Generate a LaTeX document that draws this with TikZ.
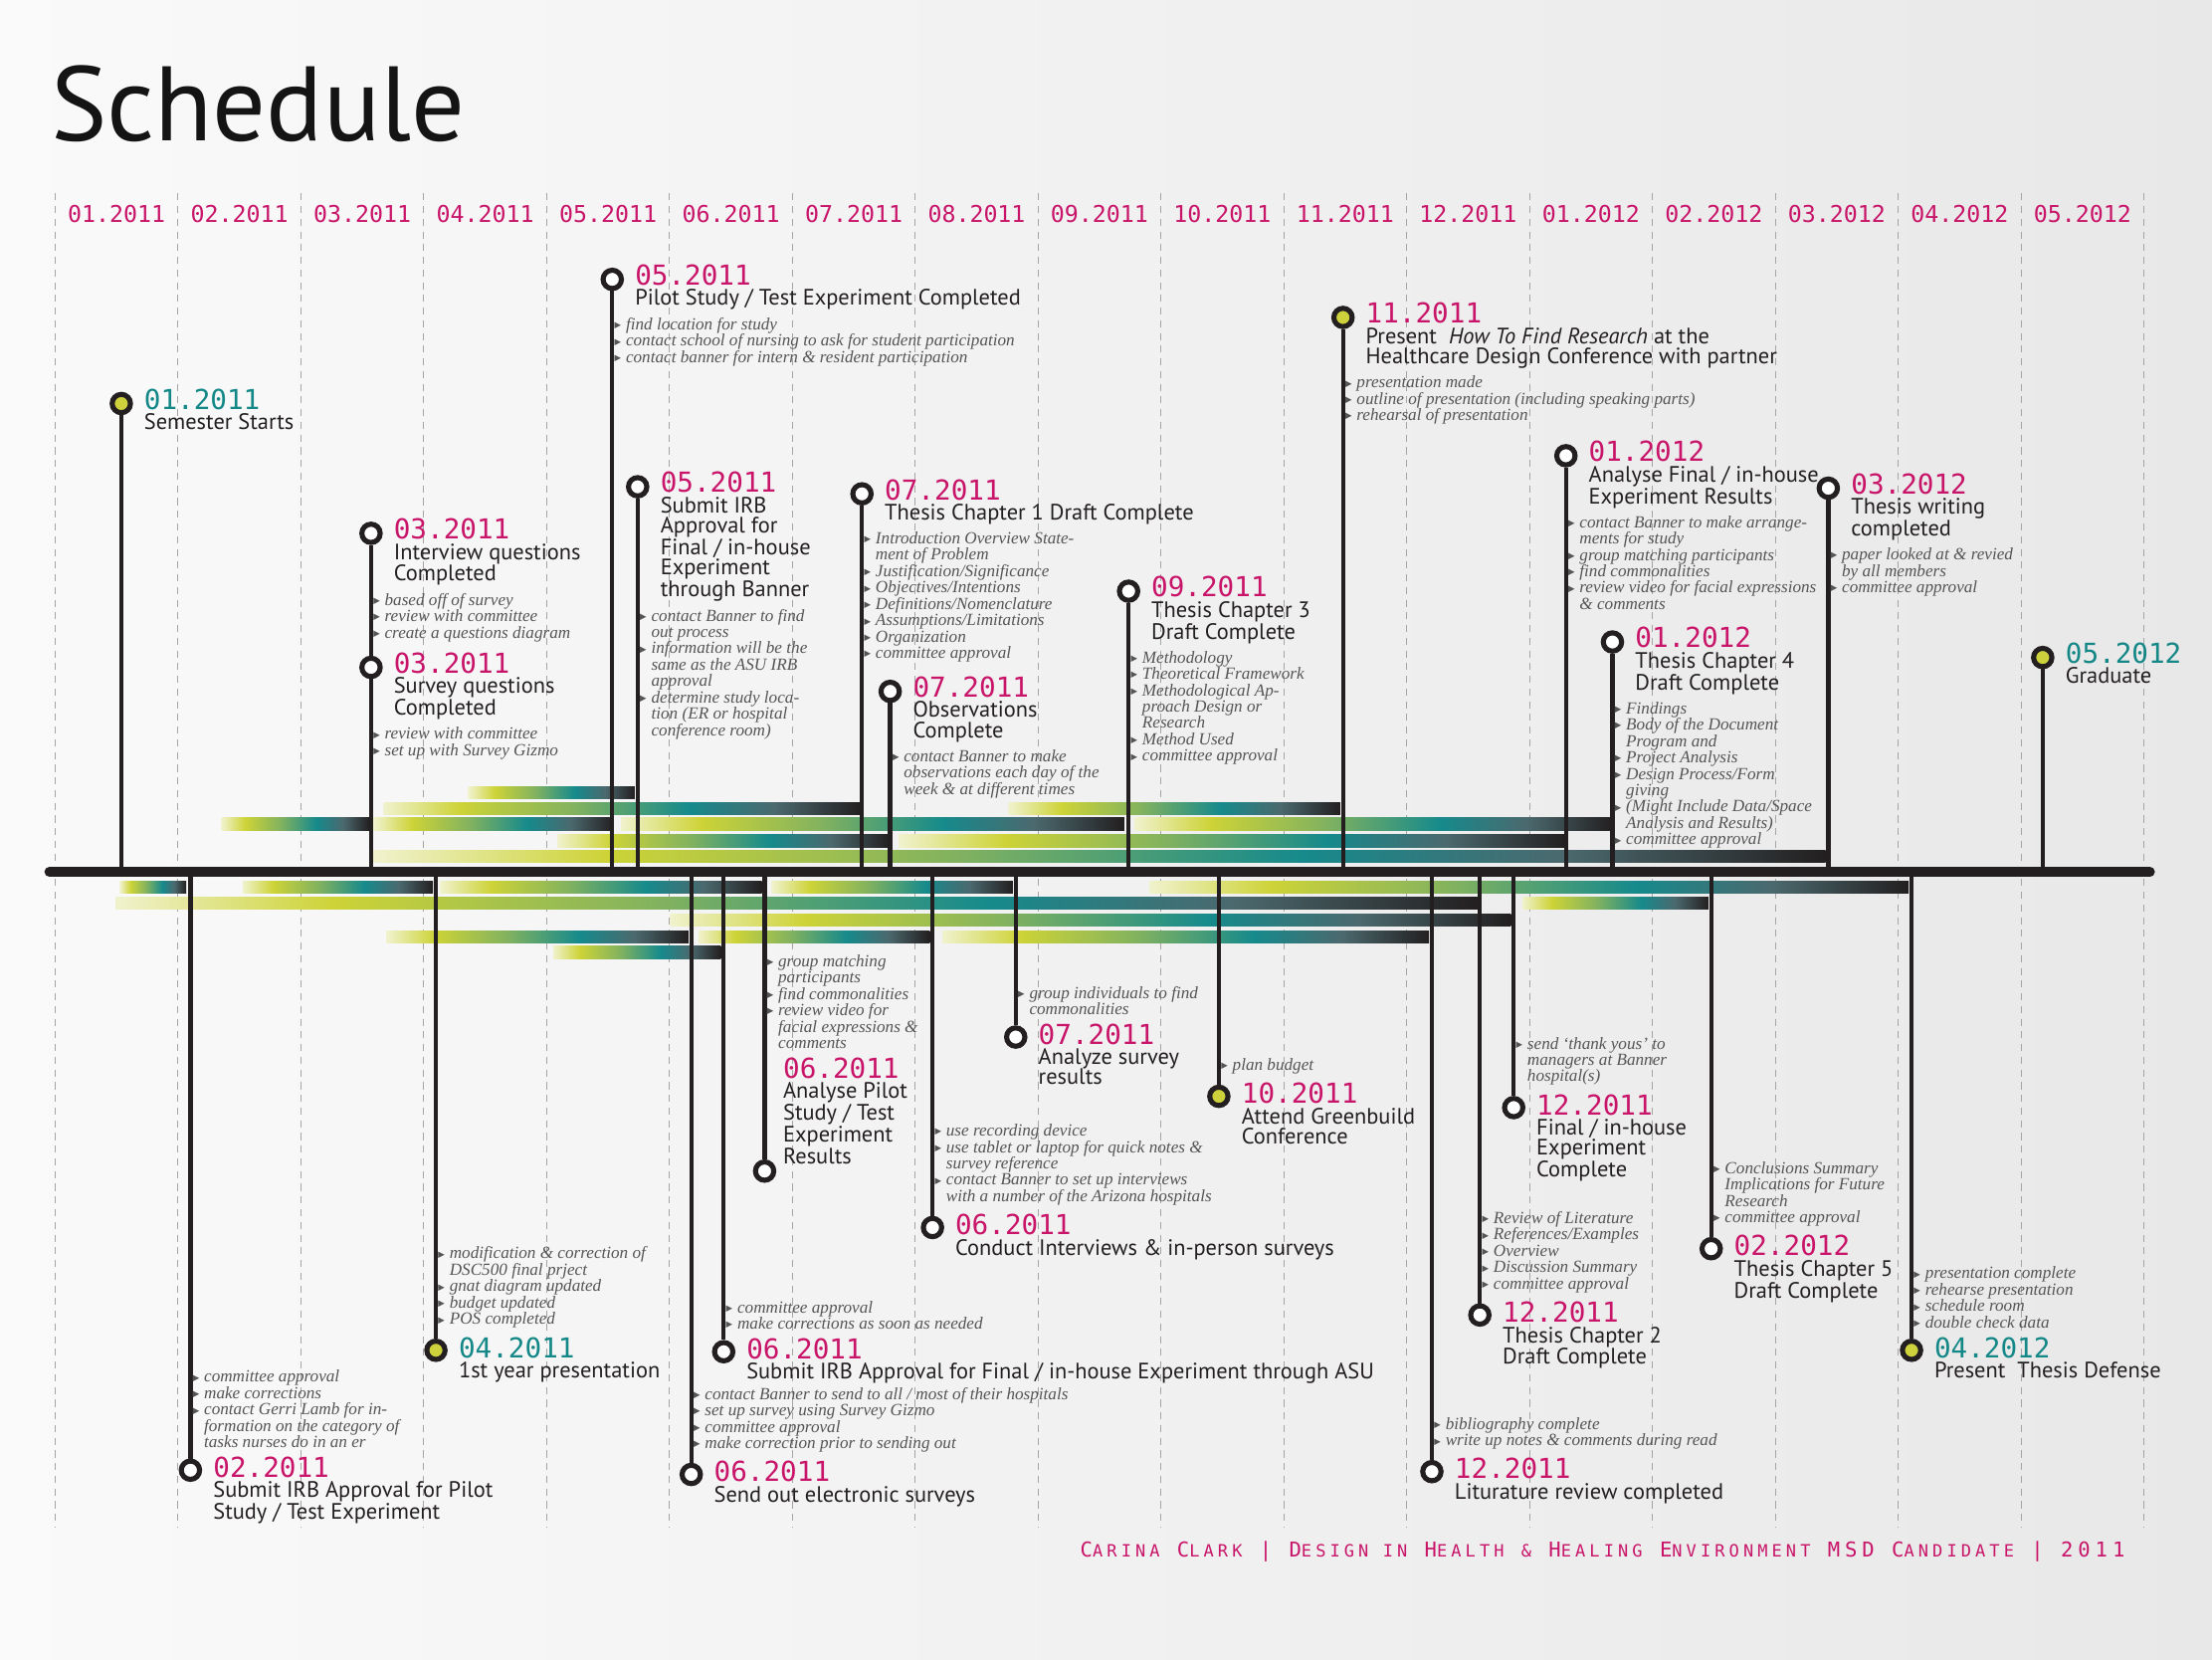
\documentclass[tikz,border=0pt]{standalone}
\usepackage{fontspec}
\setmainfont{PT Sans}
\newfontfamily\monofont{DejaVu Sans Mono}
\newfontfamily\notefont{Liberation Serif}
\newfontfamily\symfont{DejaVu Sans}
\usepackage{tikz}
\usetikzlibrary{positioning, calc}
\definecolor{ink}{RGB}{35,31,32}
\definecolor{datepink}{RGB}{200,20,105}
\definecolor{dateteal}{RGB}{20,135,135}
\definecolor{ringyel}{RGB}{205,210,60}
\definecolor{notegray}{RGB}{85,85,85}
\definecolor{gridgray}{RGB}{165,165,165}
\definecolor{barpale}{RGB}{240,242,205}
\definecolor{baryel}{RGB}{205,211,55}
\definecolor{bargreen}{RGB}{130,178,95}
\definecolor{barteal}{RGB}{22,138,140}
\definecolor{barslate}{RGB}{75,105,110}
\pgfdeclarehorizontalshading{barshade}{100bp}{color(0bp)=(barpale); color(25bp)=(barpale);
  color(33bp)=(baryel); color(45bp)=(bargreen); color(57bp)=(barteal);
  color(66bp)=(barslate); color(75bp)=(ink); color(100bp)=(ink)}
\tikzset{
  milering/.style={circle, draw=ink, line width=3.6pt, fill=white,
    minimum size=13pt, inner sep=0pt},
  stemline/.style={draw=ink, line width=3pt},
  gridline/.style={gridgray, line width=0.7pt, dash pattern=on 5pt off 4pt},
  gradbar/.style={shading=barshade},
  monthlbl/.style={font=\monofont\fontsize{16.4}{16}\selectfont, text=datepink, inner sep=0pt},
  datelbl/.style={font=\monofont\fontsize{19.5}{19}\selectfont, text=datepink,
    inner sep=0pt, anchor=west},
  titlelbl/.style={font=\fontsize{15.8}{14.3}\selectfont, text=ink, align=left,
    inner sep=0pt, anchor=north west},
  notelbl/.style={font=\notefont\itshape\fontsize{12.1}{11.6}\selectfont, text=notegray,
    align=left, inner sep=0pt, anchor=north west}
}
\newcommand{\notebul}{\makebox[8pt][l]{\raisebox{1.2pt}{\symfont\fontsize{6}{6}\selectfont\textcolor{notegray}{▶}}}}
\newcommand{\notecont}{\hspace*{8pt}}
\newcommand{\footsc}[1]{{\fontsize{12}{12}\selectfont #1}}
% event above the axis: name, ring options, position, date options, date, title, notes
\newcommand{\upevent}[7]{%
  \node[milering,#2] (#1) at (#3) {};
  \draw[stemline] (#1) -- (#1 |- axisl);
  \node[datelbl,#4] (#1d) at ([xshift=16pt,yshift=3pt]#1.center) {#5};
  \node[titlelbl] (#1t) at ([yshift=-2.5pt]#1d.south west) {#6};
  \node[notelbl, xshift=1.5pt, yshift=-5pt] (#1n) at (#1t.south -| #1) {#7};
}
% event below the axis, notes stacked over the date
\newcommand{\downevent}[7]{%
  \node[milering,#2] (#1) at (#3) {};
  \draw[stemline] (#1 |- axisl) -- (#1);
  \node[datelbl,#4] (#1d) at ([xshift=16pt,yshift=2pt]#1.center) {#5};
  \node[titlelbl] (#1t) at ([yshift=-2.5pt]#1d.south west) {#6};
  \node[notelbl, anchor=south west, xshift=1.5pt, yshift=6pt] (#1n) at (#1d.north -| #1) {#7};
}
\begin{document}
\begin{tikzpicture}[x=1pt, y=-1pt]
  % page
  \useasboundingbox (0,0) rectangle (1568,1176);
  \shade[left color=black!2, right color=black!9] (0,0) rectangle (1568,1176);
  \node[font=\fontsize{75}{75}\selectfont, text=black!92, anchor=base west, inner sep=0pt] (title) at (36,100) {Schedule};

  % month grid
  \foreach \i in {0,...,17}
    \draw[gridline] (39+87.1*\i,137) -- (39+87.1*\i,1083);
  \foreach \m [count=\i from 0] in {01.2011,02.2011,03.2011,04.2011,05.2011,06.2011,07.2011,08.2011,09.2011,10.2011,11.2011,12.2011,01.2012,02.2012,03.2012,04.2012,05.2012}
    \node[monthlbl] (m\i) at (82.6+87.1*\i,152) {\m};

  \coordinate (axisl) at (35,618);
  \coordinate (axisr) at (1524,618);

  % duration bars
  \foreach \a/\b/\y in {332/450/562, 272/610/573, 715/950/573, 157/262/584, 265/435/584,
      440/797/584, 804/1143/584, 395/631/596, 637/1110/596, 265/1294/607,
      85/132/629, 172/307/629, 312/540/629, 547/718/629, 815/1353/629,
      82/1048/640, 1079/1211/640, 475/1071/652, 274/488/664, 495/659/664,
      668/1013/664, 392/511/675}
    \shade[gradbar] (\a,\y-4.3) rectangle (\b,\y+4.3);

  % above the axis
  \upevent{sem}{fill=ringyel}{86,286}{text=dateteal}{01.2011}{Semester Starts}{}
  \upevent{intq}{}{263,378}{}{03.2011}{Interview questions\\Completed}{\notebul based off of survey\\\notebul review with committee\\\notebul create a questions diagram}
  \upevent{survq}{}{263,473}{}{03.2011}{Survey questions\\Completed}{\notebul review with committee\\\notebul set up with Survey Gizmo}
  \upevent{pilot}{}{434,198}{}{05.2011}{Pilot Study / Test Experiment Completed}{\notebul find location for study\\\notebul contact school of nursing to ask for student participation\\\notebul contact banner for intern \& resident participation}
  \upevent{irbb}{}{452,345}{}{05.2011}{Submit IRB\\Approval for\\Final / in-house\\Experiment\\through Banner}{\notebul contact Banner to find\\\notecont out process\\\notebul information will be the\\\notecont same as the ASU IRB\\\notecont approval\\\notebul determine study loca-\\\notecont tion (ER or hospital\\\notecont conference room)}
  \upevent{chone}{}{611,350}{}{07.2011}{Thesis Chapter 1 Draft Complete}{\notebul Introduction Overview State-\\\notecont ment of Problem\\\notebul Justification/Significance\\\notebul Objectives/Intentions\\\notebul Definitions/Nomenclature\\\notebul Assumptions/Limitations\\\notebul Organization\\\notebul committee approval}
  \upevent{obs}{}{631,490}{}{07.2011}{Observations\\Complete}{\notebul contact Banner to make\\\notecont observations each day of the\\\notecont week \& at different times}
  \upevent{chthree}{}{800,419}{}{09.2011}{Thesis Chapter 3\\Draft Complete}{\notebul Methodology\\\notebul Theoretical Framework\\\notebul Methodological Ap-\\\notecont proach Design or\\\notecont Research\\\notebul Method Used\\\notebul committee approval}
  \upevent{howto}{fill=ringyel}{952,225}{}{11.2011}{Present~ \textit{How To Find Research} at the\\Healthcare Design Conference with partner}{\notebul presentation made\\\notebul outline of presentation (including speaking parts)\\\notebul rehearsal of presentation}
  \upevent{anfin}{}{1110,323}{}{01.2012}{Analyse Final / in-house\\Experiment Results}{\notebul contact Banner to make arrange-\\\notecont ments for study\\\notebul group matching participants\\\notebul find commonalities\\\notebul review video for facial expressions\\\notecont \& comments}
  \upevent{chfour}{}{1143,455}{}{01.2012}{Thesis Chapter 4\\Draft Complete}{\notebul Findings\\\notebul Body of the Document\\\notecont Program and\\\notebul Project Analysis\\\notebul Design Process/Form\\\notecont giving\\\notebul (Might Include Data/Space\\\notecont Analysis and Results)\\\notebul committee approval}
  \upevent{writ}{}{1296,346}{}{03.2012}{Thesis writing\\completed}{\notebul paper looked at \& revied\\\notecont by all members\\\notebul committee approval}
  \upevent{grad}{fill=ringyel}{1448,466}{text=dateteal}{05.2012}{Graduate}{}

  % below the axis
  \downevent{irbp}{}{135,1042}{}{02.2011}{Submit IRB Approval for Pilot\\Study / Test Experiment}{\notebul committee approval\\\notebul make corrections\\\notebul contact Gerri Lamb for in-\\\notecont formation on the category of\\\notecont tasks nurses do in an er}
  \downevent{presone}{fill=ringyel}{309,957}{text=dateteal}{04.2011}{1st year presentation}{\notebul modification \& correction of\\\notecont DSC500 final prject\\\notebul gnat diagram updated\\\notebul budget updated\\\notebul POS completed}
  \downevent{send}{}{490,1045}{}{06.2011}{Send out electronic surveys}{\notebul contact Banner to send to all / most of their hospitals\\\notebul set up survey using Survey Gizmo\\\notebul committee approval\\\notebul make correction prior to sending out}
  \downevent{irba}{}{513,958}{}{06.2011}{Submit IRB Approval for Final / in-house Experiment through ASU}{\notebul committee approval\\\notebul make corrections as soon as needed}
  \downevent{intv}{}{661,870}{}{06.2011}{Conduct Interviews \& in-person surveys}{\notebul use recording device\\\notebul use tablet or laptop for quick notes \&\\\notecont survey reference\\\notebul contact Banner to set up interviews\\\notecont with a number of the Arizona hospitals}
  \downevent{ansurv}{}{720,735}{}{07.2011}{Analyze survey\\results}{\notebul group individuals to find\\\notecont commonalities}
  \downevent{green}{fill=ringyel}{864,777}{}{10.2011}{Attend Greenbuild\\Conference}{\notebul plan budget}
  \downevent{lit}{}{1015,1043}{}{12.2011}{Liturature review completed}{\notebul bibliography complete\\\notebul write up notes \& comments during read}
  \downevent{chtwo}{}{1049,932}{}{12.2011}{Thesis Chapter 2\\Draft Complete}{\notebul Review of Literature\\\notebul References/Examples\\\notebul Overview\\\notebul Discussion Summary\\\notebul committee approval}
  \downevent{fincomp}{}{1073,785}{}{12.2011}{Final / in-house\\Experiment\\Complete}{\notebul send ‘thank yous’ to\\\notecont managers at Banner\\\notecont hospital(s)}
  \downevent{chfive}{}{1213,885}{}{02.2012}{Thesis Chapter 5\\Draft Complete}{\notebul Conclusions Summary\\\notecont Implications for Future\\\notecont Research\\\notebul committee approval}
  \downevent{defense}{fill=ringyel}{1355,957}{text=dateteal}{04.2012}{Present~ Thesis Defense}{\notebul presentation complete\\\notebul rehearse presentation\\\notebul schedule room\\\notebul double check data}

  % pilot analysis: text sits above its ring
  \node[milering] (anpil) at (542,830) {};
  \draw[stemline] (anpil |- axisl) -- (anpil);
  \node[datelbl] (anpild) at (555,757) {06.2011};
  \node[titlelbl] (anpilt) at ([yshift=-2.5pt]anpild.south west) {Analyse Pilot\\Study / Test\\Experiment\\Results};
  \node[notelbl, anchor=south west, xshift=1.5pt, yshift=6pt] (anpiln) at (anpild.north -| anpil) {\notebul group matching\\\notecont participants\\\notebul find commonalities\\\notebul review video for\\\notecont facial expressions \&\\\notecont comments};

  % time axis
  \draw[ink, line width=7pt, line cap=round] (axisl) -- (axisr);

  % footer
  \node[font=\monofont\fontsize{14.5}{15}\selectfont\addfontfeatures{LetterSpace=24}, text=datepink, inner sep=0pt] (footer) at (1136,1100)
    {C\footsc{ARINA} C\footsc{LARK} | D\footsc{ESIGN IN} H\footsc{EALTH} \footsc{\&} H\footsc{EALING} E\footsc{NVIRONMENT} MSD C\footsc{ANDIDATE} | 2011};
\end{tikzpicture}
\end{document}
